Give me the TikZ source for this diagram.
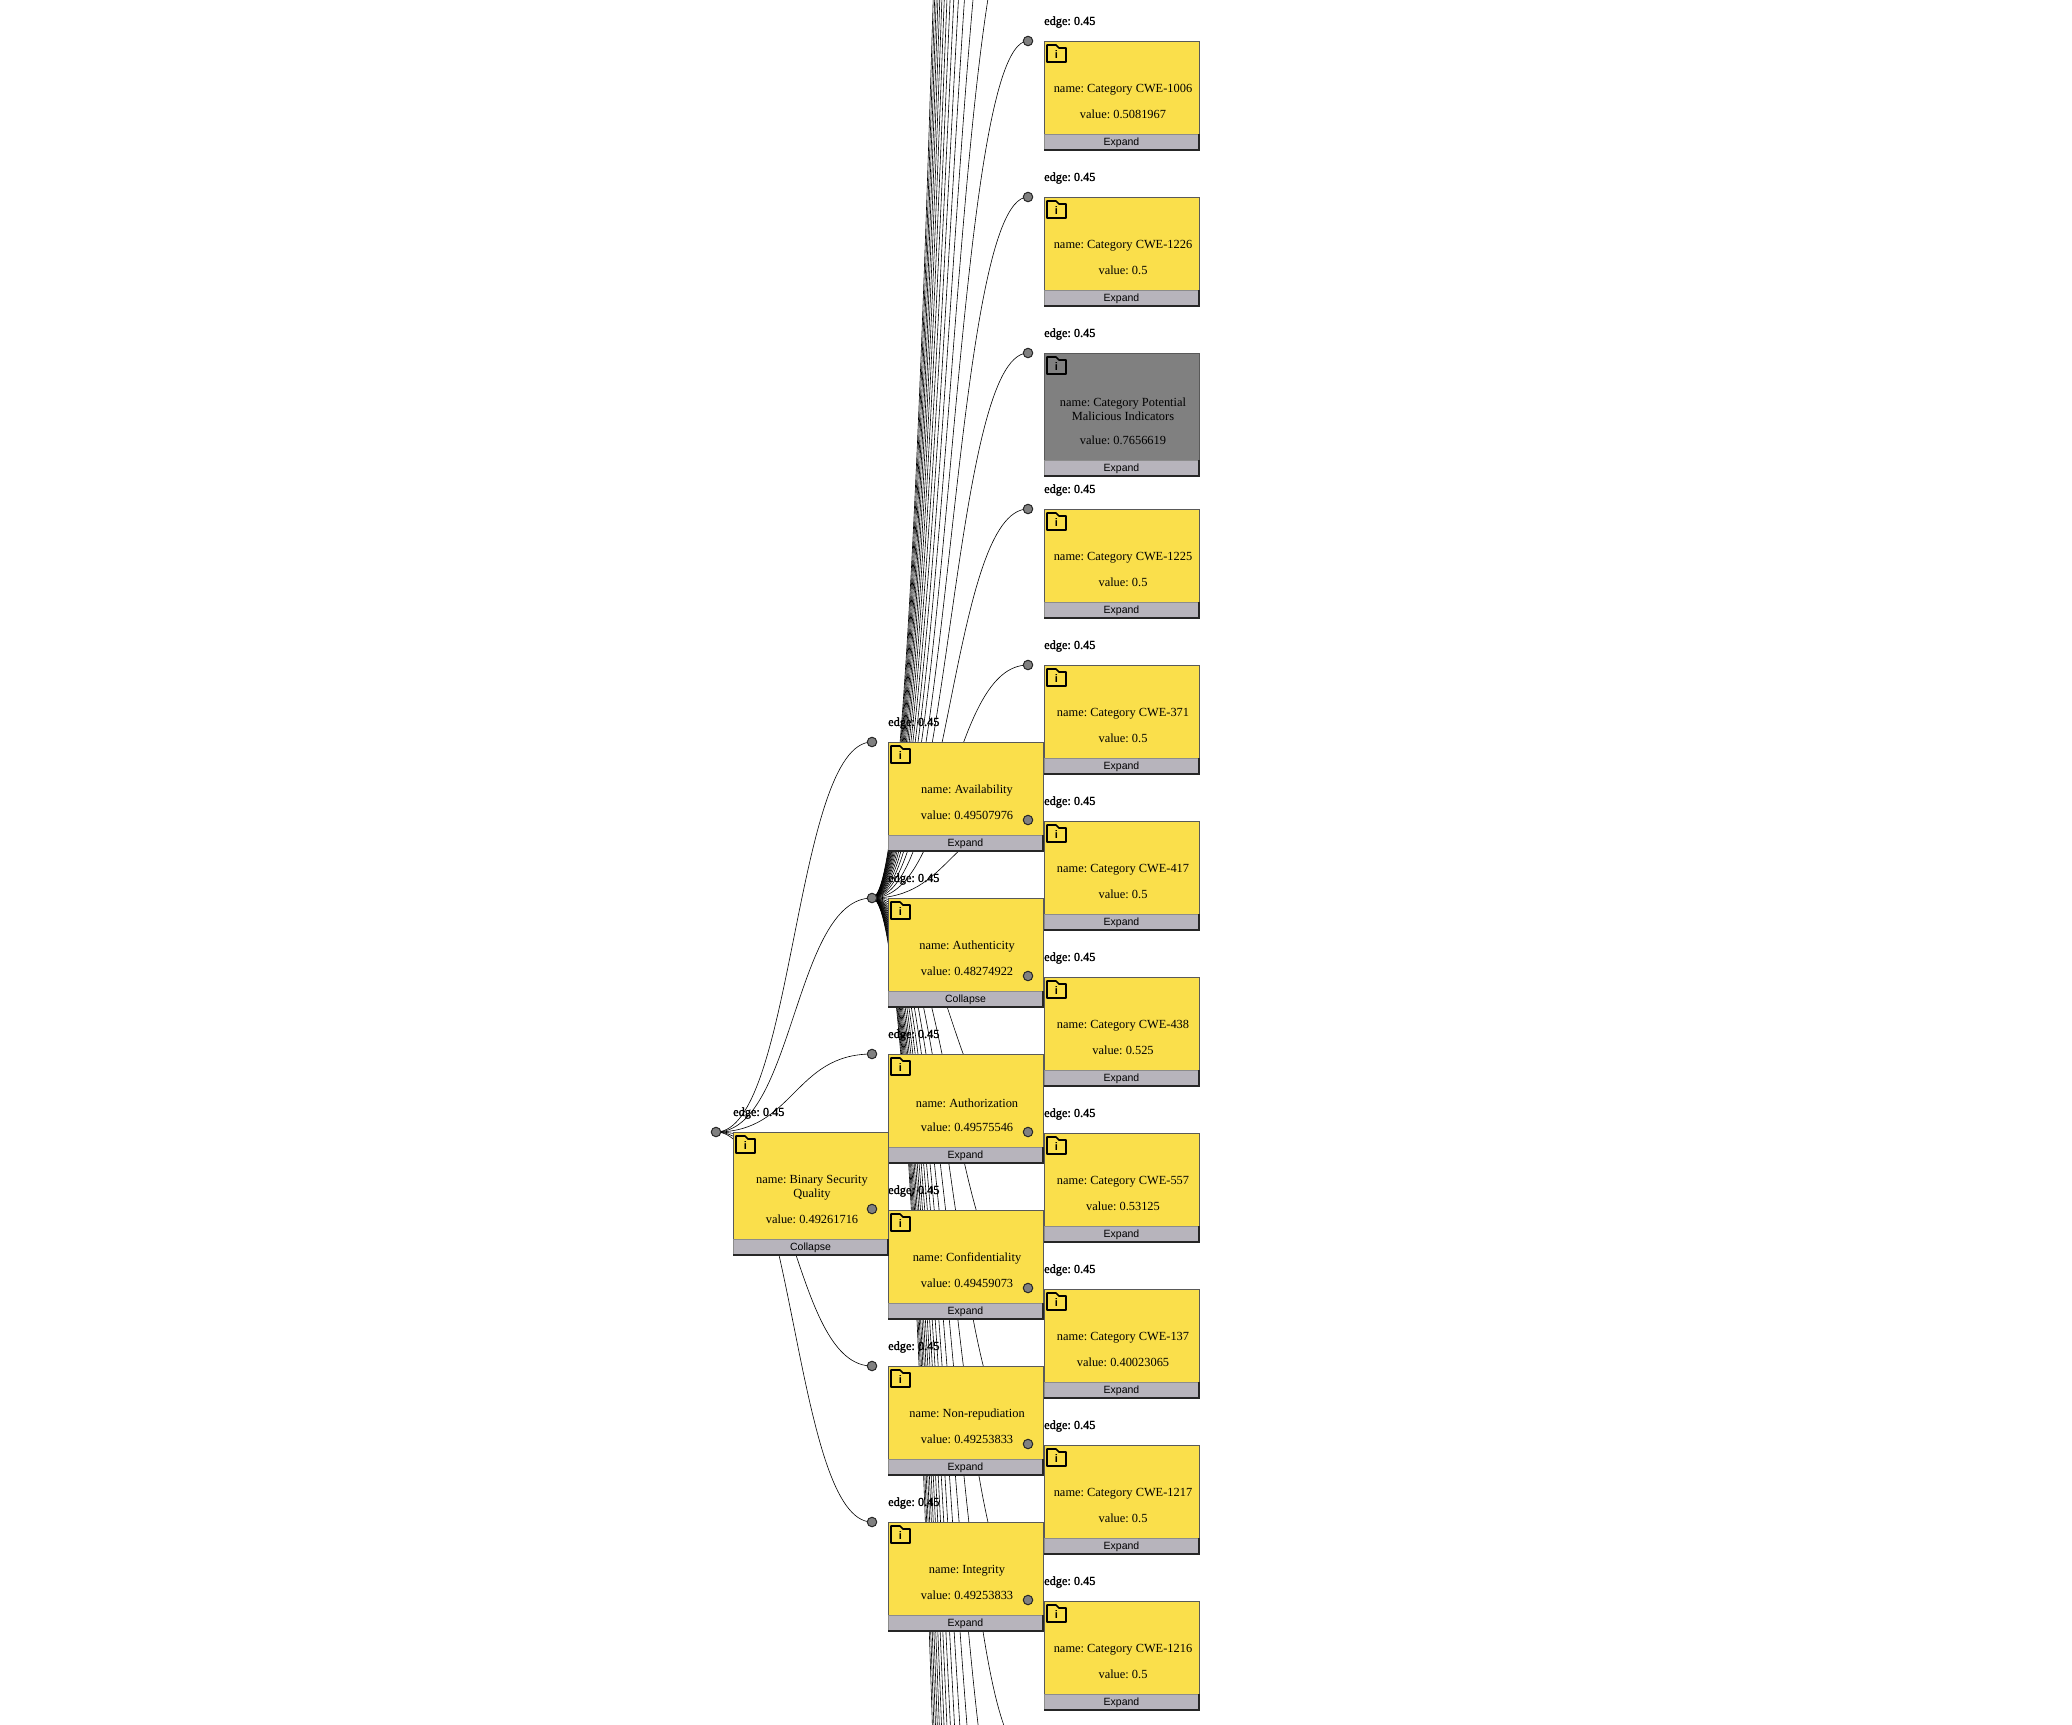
\documentclass[tikz,border=0pt]{standalone}
\usepackage{fontspec}
\setmainfont{Liberation Serif}
\newfontfamily\edgefont[FakeBold=1.6]{Liberation Serif}
\newfontfamily\barfont{Liberation Sans}
\usetikzlibrary{arrows.meta, positioning}
\frenchspacing
\definecolor{cardbg}{RGB}{250,223,75}
\definecolor{mutedbg}{RGB}{128,128,128}
\definecolor{barbg}{RGB}{183,180,188}
\tikzset{
    foldericon/.pic={
        \draw[line width=1.7pt, line join=round] (0,0) -- (9,0) -- (12,3) -- (19,3) -- (19,17) -- (0,17) -- cycle;
        \node[font=\barfont\bfseries\fontsize{11}{11}\selectfont, inner sep=0pt] (-i) at (9.5,9.5) {i};
    }
}
% one card: id, left, top, height, fill, name, value, button
\newcommand{\itemcard}[8]{
    \node[card, fill=#5, minimum height=#4pt] (#1) at (#2,#3) {};
    \node[barbox] (#1bar) at (#1.south) {#8};
    \draw[barshade] (#1bar.north east) -- (#1bar.south east) -- (#1bar.south west);
    \pic (#1icon) at (#2+3,#3+4) {foldericon};
    \node[nametext] (#1name) at ([xshift=1.5pt, yshift=55pt]#1.south) {#6};
    \node[valtext] (#1val) at ([xshift=1.5pt, yshift=36pt]#1.south) {value: #7};
    \node[edgetext] (#1edge) at (#2,#3-19) {edge: 0.45};
}
\begin{document}
\begin{tikzpicture}[
    x=1pt, y=-1pt,
    card/.style={rectangle, draw=black!65, line width=1pt, anchor=north west, minimum width=155pt, inner sep=0pt, outer sep=0pt},
    barbox/.style={rectangle, draw=black!45, line width=1pt, fill=barbg, anchor=south, minimum width=154pt, minimum height=15pt, inner sep=0pt, text height=9pt, text depth=2pt, font=\barfont\fontsize{10.5}{12}\selectfont},
    barshade/.style={line width=2pt, draw=black!85},
    nametext/.style={anchor=south, align=center, inner sep=0pt, font=\fontsize{12.4}{14}\selectfont},
    valtext/.style={inner sep=0pt, font=\fontsize{12.4}{14}\selectfont},
    edgetext/.style={anchor=west, inner sep=0pt, font=\edgefont\fontsize{12.3}{14}\selectfont},
    port/.style={circle, draw=black!85, line width=1pt, fill=mutedbg, minimum size=9.5pt, inner sep=0pt},
    link/.style={draw=black, line width=0.6pt}
]
    \path[use as bounding box, clip] (0,0) rectangle (2072,1724);

    % Ports
    \coordinate (rootin) at (716,1132);
    \foreach \pid/\ypos in {avail/742, auth/898, authz/1054, conf/1210, nonrep/1366, integ/1522}
        \coordinate (\pid in) at (872,\ypos);
    \foreach \i in {-14,...,24}
        \coordinate (leaf\i) at (1028,{41+156*\i});

    % Links
    \foreach \pid in {avail, auth, authz, conf, nonrep, integ}
        \draw[link] (rootin) .. controls +(78,0) and +(-78,0) .. (\pid in);
    \foreach \i in {-14,...,24}
        \draw[link] (authin) .. controls +(78,0) and +(-78,0) .. (leaf\i);

    % Categories
    \foreach \id/\ypos/\nm/\val in {
        cat0/41/{name: Category CWE-1006}/0.5081967,
        cat1/197/{name: Category CWE-1226}/0.5,
        cat3/509/{name: Category CWE-1225}/0.5,
        cat4/665/{name: Category CWE-371}/0.5,
        cat5/821/{name: Category CWE-417}/0.5,
        cat6/977/{name: Category CWE-438}/0.525,
        cat7/1133/{name: Category CWE-557}/0.53125,
        cat8/1289/{name: Category CWE-137}/0.40023065,
        cat9/1445/{name: Category CWE-1217}/0.5,
        cat10/1601/{name: Category CWE-1216}/0.5}
        {\itemcard{\id}{1044}{\ypos}{109}{cardbg}{\nm}{\val}{Expand}}
    \itemcard{cat2}{1044}{353}{123}{mutedbg}{name: Category Potential\\Malicious Indicators}{0.7656619}{Expand}
    \foreach \i in {0,...,10}
        \node[port] (leafdot\i) at (leaf\i) {};

    % Attributes
    \foreach \pid/\ypos/\nm/\val/\btn in {
        avail/742/{name: Availability}/0.49507976/Expand,
        auth/898/{name: Authenticity}/0.48274922/Collapse,
        authz/1054/{name: Authorization}/0.49575546/Expand,
        conf/1210/{name: Confidentiality}/0.49459073/Expand,
        nonrep/1366/{name: Non-repudiation}/0.49253833/Expand,
        integ/1522/{name: Integrity}/0.49253833/Expand}
    {
        \itemcard{\pid}{888}{\ypos}{109}{cardbg}{\nm}{\val}{\btn}
        \node[port] (\pid dot) at (\pid in) {};
        \node[port] (\pid out) at (1028,\ypos+78) {};
    }

    % Root
    \itemcard{root}{733}{1132}{123}{cardbg}{name: Binary Security\\Quality}{0.49261716}{Collapse}
    \node[port] (rootdot) at (rootin) {};
    \node[port] (rootout) at (872,1209) {};
\end{tikzpicture}
\end{document}
